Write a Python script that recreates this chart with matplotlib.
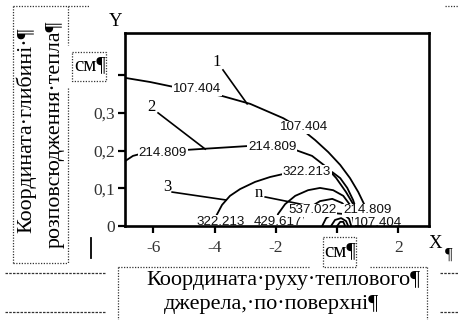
import matplotlib
matplotlib.use("Agg")
import matplotlib.pyplot as plt
from matplotlib.transforms import Affine2D
from matplotlib.lines import Line2D

W, H = 458, 320

# ---- data ----
levels = ["107.404", "214.809", "322.213", "429.617", "537.022"]

c1_x = [-6.93, -6.11, -5.46, -3.76, -2.84, -1.76, -1.21, -0.72, -0.29, 0.10, 0.42, 0.69, 0.88, 1.05, 1.14]
c1_y = [0.393, 0.382, 0.371, 0.345, 0.324, 0.286, 0.260, 0.228, 0.196, 0.162, 0.127, 0.090, 0.058, 0.029, 0.0]

c2_x = [-6.93, -6.67, -6.44, -4.90, -2.94, -1.37, -0.82, -0.39, -0.03, 0.29, 0.56, 0.75, 0.85]
c2_y = [0.172, 0.186, 0.191, 0.202, 0.212, 0.202, 0.186, 0.159, 0.127, 0.090, 0.053, 0.024, 0.0]

c3_x = [-4.05, -3.95, -3.76, -3.50, -3.17, -2.68, -2.19, -1.76, -1.21, -0.16, 0.10, 0.33, 0.52, 0.65, 0.72]
c3_y = [0.0, 0.027, 0.056, 0.080, 0.098, 0.117, 0.130, 0.138, 0.143, 0.143, 0.127, 0.101, 0.069, 0.037, 0.0]

c4_x = [-2.06, -1.93, -1.70, -1.37, -0.95, -0.56, -0.13, 0.20, 0.42, 0.59, 0.65]
c4_y = [0.0, 0.032, 0.058, 0.080, 0.095, 0.101, 0.095, 0.080, 0.056, 0.029, 0.0]

c5_x = [-1.21, -1.11, -0.88, -0.56, -0.16, 0.16, 0.39, 0.52, 0.56]
c5_y = [0.0, 0.027, 0.050, 0.066, 0.072, 0.061, 0.042, 0.021, 0.0]

c6_x = [-0.49, -0.36, -0.10, 0.20, 0.39, 0.46]
c6_y = [0.0, 0.021, 0.034, 0.032, 0.019, 0.0]
c7_x = [-0.20, -0.07, 0.13, 0.29, 0.36]
c7_y = [0.0, 0.016, 0.021, 0.013, 0.0]
c8_x = [0.0, 0.10, 0.20, 0.26]
c8_y = [0.0, 0.011, 0.011, 0.0]

curves = [(c1_x, c1_y), (c2_x, c2_y), (c3_x, c3_y), (c4_x, c4_y), (c5_x, c5_y),
          (c6_x, c6_y), (c7_x, c7_y), (c8_x, c8_y)]

# inline contour labels: (text, x, y)
label_text = ["107.404", "107.404", "214.809", "214.809", "322.213", "322.213",
              "429.617", "537.022", "214.809", "107.404"]
label_x = [-4.58, -1.08, -5.69, -2.12, -0.98, -3.82, -1.93, -0.82, 0.98, 1.34]
label_y = [0.363, 0.262, 0.194, 0.210, 0.143, 0.011, 0.011, 0.042, 0.042, 0.008]

# curve numbers with leader lines
num_text = ["1", "2", "3", "n"]
num_x = [-3.92, -6.08, -5.56, -2.55]
num_y = [0.435, 0.316, 0.103, 0.088]
lead_x0 = [-3.73, -5.85, -5.39, -2.35]
lead_y0 = [0.414, 0.300, 0.090, 0.077]
lead_x1 = [-2.94, -4.31, -3.63, -0.82]
lead_y1 = [0.324, 0.204, 0.069, 0.052]

xticks = [-6, -4, -2, 0, 2]
xticklabels = ["-6", "-4", "-2", "", "2"]
yticks = [0, 0.1, 0.2, 0.3, 0.4]
yticklabels = ["0", "0,1", "0,2", "0,3", ""]

# ---- figure ----
fig = plt.figure(figsize=(W / 100, H / 100), dpi=100)
fig.patch.set_facecolor("white")
PX = Affine2D().scale(1 / W, -1 / H).translate(0, 1) + fig.transFigure

ax_l, ax_r, ax_t, ax_b = 125, 429, 33, 226
ax = fig.add_axes([ax_l / W, 1 - ax_b / H, (ax_r - ax_l) / W, (ax_b - ax_t) / H])
ax.set_xlim(-6.93, 3.0)
ax.set_ylim(0, 0.512)
for s in ax.spines.values():
    s.set_linewidth(1.9)
    s.set_zorder(10)

serif = "Liberation Serif"
ax.set_xticks(xticks)
ax.set_xticklabels(xticklabels, fontfamily=serif, fontsize=12.5, color="#333333")
ax.set_yticks(yticks)
ax.set_yticklabels(yticklabels, fontfamily=serif, fontsize=12.5, color="#333333")
ax.tick_params(axis="both", direction="out", length=5, width=1.6, color="black")
ax.tick_params(axis="x", pad=5)
ax.tick_params(axis="y", pad=2)

for cx, cy in curves:
    ax.plot(cx, cy, color="black", lw=1.3, solid_capstyle="round", zorder=3)

for t, x, y in zip(label_text, label_x, label_y):
    ax.text(x, y, t, ha="center", va="center", fontsize=9.6, fontfamily="Liberation Sans",
            color="#111111", zorder=5, clip_on=True,
            bbox=dict(boxstyle="square,pad=0.05", fc="white", ec="none"))

for t, x, y, x0, y0, x1, y1 in zip(num_text, num_x, num_y, lead_x0, lead_y0, lead_x1, lead_y1):
    ax.plot([x0, x1], [y0, y1], color="black", lw=1.2, zorder=4)
    ax.text(x, y, t, ha="center", va="center", fontsize=12, fontfamily=serif, zorder=6)

# ---- surrounding document elements ----
def dline(xs, ys, lw=0.9, ls=(0, (1, 1.2)), color="#333333"):
    fig.add_artist(Line2D(xs, ys, transform=PX, lw=lw, ls=ls, color=color))

def ftext(x, y, s, size, **kw):
    fig.text(x, y, s, transform=PX, fontsize=size, fontfamily=serif, **kw)

# left vertical text box
dline([13, 90], [6, 6])
dline([13, 13], [6, 263])
dline([68, 68], [6, 45])
dline([68, 68], [88, 263])
dline([13, 68], [263, 263])
ftext(26, 130, "Координата·глибині·¶", 15.8, rotation=90, ha="center", va="center")
ftext(55, 134, "розповсюдження·тепла¶", 15.8, rotation=90, ha="center", va="center")

# "см" box top
dline([72, 106, 106, 72, 72], [52, 52, 81, 81, 52])
ftext(90, 66, "см¶", 15, ha="center", va="center")

# axis letters
ftext(116, 22, "Y", 13.5, ha="center", va="center")
ftext(435, 244, "X", 13.5, ha="center", va="center")
ftext(449, 255, "¶", 12, ha="center", va="center")

# "см" box bottom
dline([323, 356, 356, 323, 323], [237, 237, 267, 267, 237])
ftext(340, 252, "см¶", 15, ha="center", va="center")

# cursor bar
fig.add_artist(Line2D([91, 91], [238, 258], transform=PX, lw=1.3, color="black"))

# bottom text box
dline([118, 310], [267, 267])
dline([370, 427], [267, 267])
dline([118, 118], [267, 320])
dline([427, 427], [267, 320])
ftext(283, 281, "Координата·руху·теплового¶", 16, ha="center", va="center")
ftext(272, 304, "джерела,·по·поверхні¶", 16, ha="center", va="center")

# page lines
dline([5, 105], [273, 273], ls=(0, (2, 1)))
dline([5, 105], [312, 312], ls=(0, (2, 1)))
dline([440, 458], [273, 273], ls=(0, (2, 1)))
dline([440, 458], [312, 312], ls=(0, (2, 1)))
dline([445, 458], [6, 6])

fig.savefig("out.png", dpi=100, facecolor="white")
